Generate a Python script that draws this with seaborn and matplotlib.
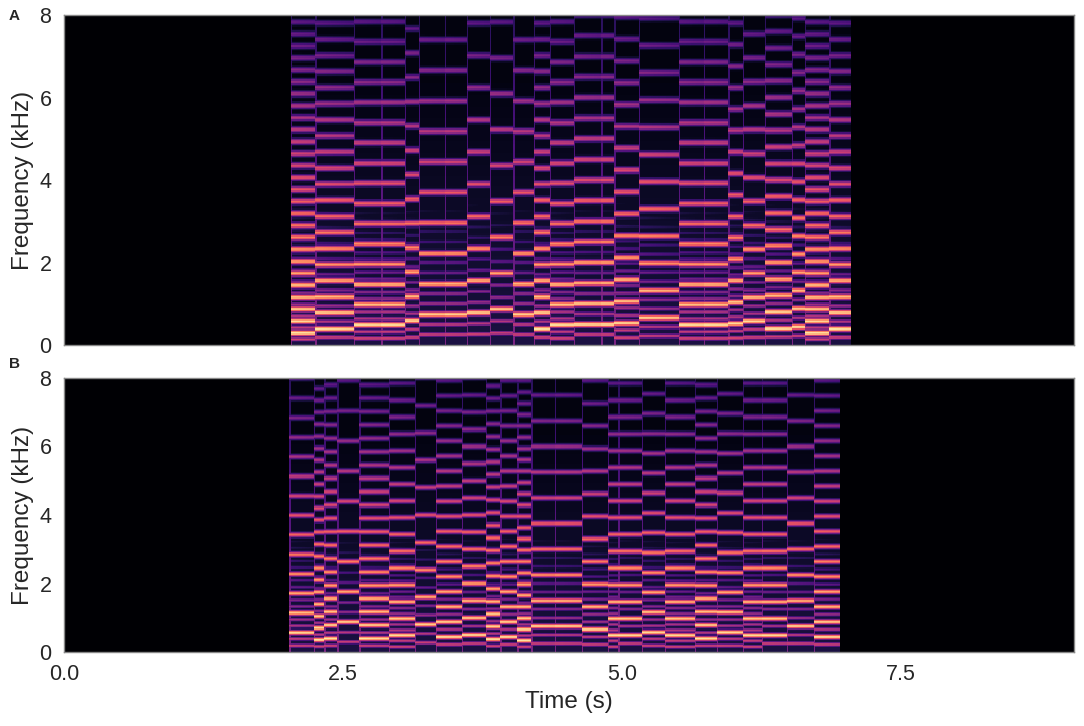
import numpy as np
import matplotlib
matplotlib.use("Agg")
import matplotlib.pyplot as plt
import seaborn as sns

sns.set_style("white")
plt.rcParams["font.family"] = ["Liberation Sans", "DejaVu Sans"]

# note onsets (s), main fundamental (kHz) and softer lower voice (kHz)
onsets_a = [2.03, 2.24, 2.59, 2.84, 3.04, 3.17, 3.41, 3.60, 3.81, 4.02, 4.21, 4.35,
            4.57, 4.81, 4.93, 5.15, 5.50, 5.73, 5.95, 6.07, 6.27, 6.51, 6.63, 6.85]
end_a = 7.05
f0_a = [0.29, 0.39, 0.49, 0.49, 0.59, 0.74, 0.74, 0.78, 0.87, 0.74, 0.39, 0.49,
        0.50, 0.50, 0.53, 0.66, 0.49, 0.49, 0.52, 0.58, 0.40, 0.44, 0.29, 0.39]
low_a = [0.14, 0.19, 0.16, 0.16, 0.19, 0.25, 0.25, 0.26, 0.29, 0.25, 0.19, 0.16,
         0.25, 0.25, 0.18, 0.22, 0.16, 0.16, 0.17, 0.19, 0.20, 0.22, 0.14, 0.19]

onsets_b = [2.01, 2.23, 2.33, 2.44, 2.64, 2.91, 3.14, 3.32, 3.56, 3.78, 3.90, 4.05, 4.18,
            4.39, 4.63, 4.87, 4.96, 5.17, 5.38, 5.64, 5.84, 6.07, 6.25, 6.47, 6.71]
end_b = 6.94
f0_b = [0.57, 0.35, 0.39, 0.88, 0.39, 0.49, 0.80, 0.44, 0.50, 0.37, 0.44, 0.33, 0.75,
        0.75, 0.66, 0.49, 0.49, 0.58, 0.49, 0.39, 0.58, 0.49, 0.49, 0.75, 0.44]
low_b = [0.19, 0.17, 0.19, 0.29, 0.19, 0.16, 0.27, 0.22, 0.25, 0.18, 0.22, 0.16, 0.25,
         0.25, 0.22, 0.16, 0.25, 0.19, 0.16, 0.19, 0.19, 0.16, 0.25, 0.25, 0.22]

t_max = 9.05
hop = 0.0116
n_frames = int(round(t_max / hop))
f_max = 8.0
n_bins = 256
times = np.arange(n_frames) * hop
freqs = (np.arange(n_bins) + 0.5) * f_max / n_bins


def spectro(onsets, end, f0s, lows):
    S = np.zeros((n_bins, n_frames))
    edges = list(onsets) + [end]
    for i in range(len(f0s)):
        cols = np.where((times >= edges[i]) & (times < edges[i + 1]))[0]
        for c in cols:
            age = times[c] - edges[i]
            col = np.clip(0.12 - 0.014 * freqs, 0.03, None)
            for f0, top, slope, w in [(f0s[i], 0.98, 0.088, 0.055), (lows[i], 0.6, 0.15, 0.04)]:
                for fk in np.arange(f0, f_max + 0.2, f0):
                    lvl = top - slope * fk - 0.15 * age
                    if lvl <= 0:
                        continue
                    col = np.maximum(col, lvl * np.exp(-0.5 * ((freqs - fk) / w) ** 2))
            if c - cols[0] < 1:
                col = np.maximum(col, 0.36 - 0.025 * freqs)
            S[:, c] = col
    return S


spec_a = spectro(onsets_a, end_a, f0_a, low_a)
spec_b = spectro(onsets_b, end_b, f0_b, low_b)

fig = plt.figure(figsize=(10.84, 7.26), dpi=100)
ax_a = fig.add_axes([64 / 1084, 1 - 345 / 726, 1010 / 1084, 330 / 726])
ax_b = fig.add_axes([64 / 1084, 1 - 652 / 726, 1010 / 1084, 274 / 726])

for ax, S in [(ax_a, spec_a), (ax_b, spec_b)]:
    sns.heatmap(S, ax=ax, cmap="magma", vmin=0, vmax=1, cbar=False,
                xticklabels=False, yticklabels=False)
    ax.set_ylim(0, n_bins)
    ax.set_yticks([f / f_max * n_bins for f in [0, 2, 4, 6, 8]])
    ax.set_yticklabels(["0", "2", "4", "6", "8"])
    ax.set_ylabel("Frequency (kHz)", fontsize=17.5)
    ax.tick_params(length=0, pad=9, labelsize=15.5)
    for sp in ax.spines.values():
        sp.set_visible(True)
        sp.set_color("#888888")
        sp.set_linewidth(1)

ax_a.set_xticks([])
ax_b.set_xticks([t / hop for t in [0, 2.5, 5.0, 7.5]])
ax_b.set_xticklabels(["0.0", "2.5", "5.0", "7.5"])
ax_b.set_xlabel("Time (s)", fontsize=17.5)

fig.text(14 / 1084, 1 - 16 / 726, "A", fontsize=11, fontweight="bold", ha="center", va="center")
fig.text(14 / 1084, 1 - 364 / 726, "B", fontsize=11, fontweight="bold", ha="center", va="center")

fig.savefig("out.png", dpi=100)
